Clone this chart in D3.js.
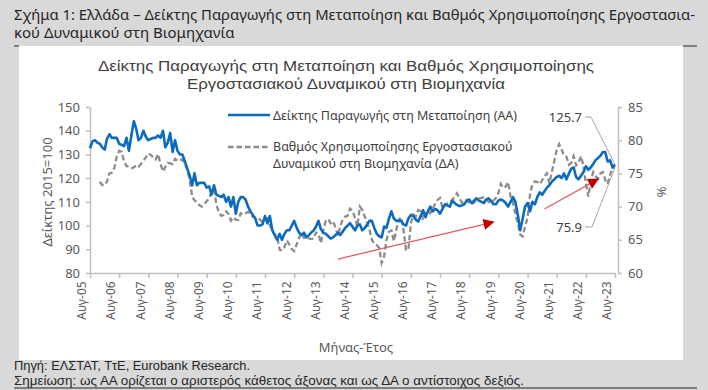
<!DOCTYPE html>
<html>
<head>
<meta charset="utf-8">
<script src="https://cdn.jsdelivr.net/npm/d3@7"></script>
<style>
  body { margin: 0; background: #d9d9d9; }
  svg { display: block; font-family: "Noto Sans", sans-serif; }
</style>
</head>
<body>
<div id="chart"></div>
<script>
// monthly, from Aug 2005 (index 2015=100, left axis)
const ipStart = new Date(2005, 7, 1);
const ipValues = [
  132.6, 135.5, 136, 135, 134.5, 133, 132, 136.5, 138.5, 137, 137, 137,
  134.5, 134, 133.5, 137, 131.5, 138, 144, 141, 136, 137, 140, 137.5,
  136, 136.5, 137, 137, 138, 137, 140, 133, 135, 139, 131, 136,
  131.5, 130, 130, 127, 124, 121, 117, 122, 117, 118, 118, 118,
  116, 116.5, 113, 117, 113, 112.5, 112, 113, 110, 112, 108, 112,
  105, 110, 112, 112, 111, 108, 106, 104.5, 103, 100, 100, 100.5,
  104, 101, 104, 98, 96, 94, 96.5, 94, 96.5, 98, 98, 100,
  102, 99, 97, 96, 97, 95, 96, 97, 98, 99.5, 102, 98.5,
  97, 96.5, 95.5, 94.5, 95, 96, 97, 96, 97.5, 99, 100, 101,
  99.5, 98, 100, 100.5, 98, 99, 100.5, 102, 102, 99, 96.5, 95.5,
  95, 99.6, 99, 103, 106, 103, 102, 102, 102, 100.5, 100, 103,
  104.5, 104, 102.5, 101.7, 104, 106.5, 103.5, 106, 108, 106, 107, 106.5,
  105, 107, 109, 108.5, 108, 110.5, 109.5, 108.7, 108.2, 108.5, 109, 110.5,
  111, 109.5, 110.5, 111.5, 110.5, 110, 109.5, 111, 111.5, 110.5, 109, 109,
  110.5, 111, 110.5, 109.5, 108, 110, 112, 110, 104.5, 98, 103, 108,
  109.5, 106, 110, 109, 112, 114, 113, 114.5, 116, 117, 118.5, 119.5,
  120.5, 121, 120, 122, 119.5, 122, 124, 124.5, 120.5, 119.5, 121, 122.5,
  125, 123.5, 124.5, 126, 127.6, 128.5, 129.5, 131, 131, 127, 127.5, 124.5,
  125.7
];

// monthly, from Dec 2005 (capacity utilisation %, right axis)
const cuStart = new Date(2005, 11, 1);
const cuValues = [
  73.75, 73.25, 73.25, 73.75, 75, 75.1, 75.8, 77.5,
  78.4, 78.25, 76.8, 76.1, 76, 75.8, 75.9, 76.2, 76, 76.4, 76.9, 77.4,
  78, 77.8, 77.4, 77.1, 77.9, 76.4, 75.3, 76, 76.6, 76.5, 76.4, 77.2,
  76.9, 77, 77.1, 76.4, 75.6, 74, 71.4, 71, 70.6, 70.2, 70, 70.4,
  70.8, 71.3, 72.2, 72.6, 70.3, 69.1, 68.6, 68.75, 69.3, 68.9, 67.9, 68.4,
  68, 68, 69, 68.8, 69, 69.2, 69, 68.5, 68.3, 68.4, 68, 67.7,
  67.8, 68.2, 67.2, 66.4, 65.8, 65.5, 63.5, 63.4, 63.9, 64.9, 64.3, 63.6,
  63.3, 64.3, 65.3, 66, 65.3, 65.5, 65.2, 65.1, 65.2, 66.1, 65.9, 64.5,
  66.5, 67.9, 68.1, 67.5, 67.8, 66.8, 65.6, 67, 68.1, 68.5, 68.6, 69.7,
  69.4, 68.3, 67, 70, 69.5, 68.5, 67.6, 66.5, 65, 64.4, 64.2, 63.8,
  61.5, 62.5, 65, 66.2, 66.4, 64.8, 66.5, 68, 68.4, 66.5, 63.5, 63.5,
  67.5, 68.8, 68.5, 69.5, 69.3, 68, 69.3, 69.3, 69, 69.7, 70.4, 71,
  71.3, 69.75, 70.1, 70.5, 70.7, 71, 71.5, 72, 71.3, 70.6, 70.7, 71,
  70.6, 70.3, 70.6, 71, 71.2, 71.3, 71.4, 71.2, 70.7, 70.6, 70.9, 71.3,
  72, 73.4, 72.8, 73, 73.7, 71.5, 70.5, 69, 67.5, 65.8, 65.5, 67,
  68.3, 71.8, 73.4, 73.8, 73.7, 73.4, 74, 74.6, 75, 73.5, 75.2, 76.8,
  78.5, 79.4, 78.6, 77.7, 77.5, 76.3, 76.6, 77.6, 76.2, 76.6, 77.6, 76.2,
  73.5, 71.5, 73.8, 75.2, 74.6, 74.2, 75, 75.2, 74, 73.4, 74.8, 75.8,
  75.9
];

const tickYears = d3.range(2005, 2024);
const leftTicks = [80, 90, 100, 110, 120, 130, 140, 150];
const rightTicks = [60, 65, 70, 75, 80, 85];

const ipSeries = ipValues.map((v, i) => ({ date: d3.timeMonth.offset(ipStart, i), value: v }));
const cuSeries = cuValues.map((v, i) => ({ date: d3.timeMonth.offset(cuStart, i), value: v }));

// trend arrows drawn on the chart, in data units (left axis)
const trendArrows = [
  { from: [new Date(2014, 1, 1), 85.9], to: [new Date(2019, 5, 1), 101.5] },
  { from: [new Date(2021, 2, 1), 107], to: [new Date(2023, 0, 1), 119.6] }
];

function drawChart() {
  const width = 708;
  const height = 390;

  const svg = d3.select("#chart")
    .append("svg")
    .attr("width", width)
    .attr("height", height);

  // page frame
  svg.append("rect")
    .attr("x", 0).attr("y", 0)
    .attr("width", width).attr("height", height)
    .attr("fill", "#d9d9d9");
  svg.append("rect")
    .attr("x", 19).attr("y", 46)
    .attr("width", 664).attr("height", 314)
    .attr("fill", "#ffffff");
  svg.append("line").attr("x1", 14).attr("x2", 19).attr("y1", 46).attr("y2", 46)
    .attr("stroke", "#7f7f7f").attr("stroke-width", 2);
  svg.append("line").attr("x1", 683).attr("x2", 697).attr("y1", 46).attr("y2", 46)
    .attr("stroke", "#7f7f7f").attr("stroke-width", 2);
  svg.append("line").attr("x1", 14).attr("x2", 697).attr("y1", 388).attr("y2", 388)
    .attr("stroke", "#7f7f7f").attr("stroke-width", 2);

  const head = svg.append("g").attr("fill", "#262626").attr("font-size", 15);
  head.append("text").attr("x", 14).attr("y", 20)
    .attr("textLength", 681).attr("lengthAdjust", "spacingAndGlyphs")
    .text("Σχήμα 1: Ελλάδα – Δείκτης Παραγωγής στη Μεταποίηση και Βαθμός Χρησιμοποίησης Εργοστασια-");
  head.append("text").attr("x", 14).attr("y", 38)
    .text("κού Δυναμικού στη Βιομηχανία");

  const foot = svg.append("g").attr("fill", "#262626").attr("font-size", 12.5)
    .attr("font-family", "'Liberation Sans', sans-serif");
  foot.append("text").attr("x", 14).attr("y", 370)
    .attr("textLength", 236).attr("lengthAdjust", "spacingAndGlyphs")
    .text("Πηγή: ΕΛΣΤΑΤ, ΤτΕ, Eurobank Research.");
  foot.append("text").attr("x", 14).attr("y", 385)
    .attr("textLength", 510).attr("lengthAdjust", "spacingAndGlyphs")
    .text("Σημείωση: ως ΑΑ ορίζεται ο αριστερός κάθετος άξονας και ως ΔΑ ο αντίστοιχος δεξιός.");

  // chart title
  const title = svg.append("g").attr("fill", "#404040").attr("font-size", 15)
    .attr("font-family", "'Liberation Sans', sans-serif")
    .attr("text-anchor", "middle");
  title.append("text").attr("x", 346).attr("y", 71)
    .attr("textLength", 496).attr("lengthAdjust", "spacingAndGlyphs")
    .text("Δείκτης Παραγωγής στη Μεταποίηση και Βαθμός Χρησιμοποίησης");
  title.append("text").attr("x", 346).attr("y", 89)
    .attr("textLength", 318).attr("lengthAdjust", "spacingAndGlyphs")
    .text("Εργοστασιακού Δυναμικού στη Βιομηχανία");

  const xScale = d3.scaleTime()
    .domain([new Date(2005, 7, 1), new Date(2023, 7, 1)])
    .range([90, 615]);
  const yLeft = d3.scaleLinear().domain([80, 150]).range([273, 107]);
  const yRight = d3.scaleLinear().domain([60, 85]).range([273, 107]);

  const axisColor = "#bfbfbf";
  const labelColor = "#595959";

  const xAxis = svg.append("g")
    .attr("transform", "translate(0,273)")
    .call(d3.axisBottom(xScale)
      .tickValues(tickYears.map((y) => new Date(y, 7, 1)))
      .tickFormat((d) => "Αυγ-" + String(d.getFullYear() % 100).padStart(2, "0"))
      .tickSize(5).tickSizeOuter(0));
  xAxis.selectAll("text")
    .attr("transform", "rotate(-90)")
    .attr("text-anchor", "end")
    .attr("dx", "-0.7em")
    .attr("dy", "-0.35em")
    .attr("x", 0).attr("y", 0)
    .attr("font-size", 12)
    .attr("fill", labelColor);

  const leftAxis = svg.append("g")
    .attr("transform", "translate(90,0)")
    .call(d3.axisLeft(yLeft).tickValues(leftTicks).tickSize(4).tickSizeOuter(0).tickPadding(6));
  leftAxis.selectAll("text").attr("font-size", 13).attr("fill", labelColor);

  const rightAxis = svg.append("g")
    .attr("transform", "translate(618,0)")
    .call(d3.axisRight(yRight).tickValues(rightTicks).tickSize(4).tickSizeOuter(0).tickPadding(6));
  rightAxis.selectAll("text").attr("font-size", 13).attr("fill", labelColor);

  [xAxis, leftAxis, rightAxis].forEach((a) => {
    a.select(".domain").attr("stroke", axisColor).attr("stroke-width", 1.5);
    a.selectAll(".tick line").attr("stroke", axisColor).attr("stroke-width", 1.5);
    a.attr("font-family", null);
  });

  svg.append("text")
    .attr("transform", "translate(52,192) rotate(-90)")
    .attr("text-anchor", "middle")
    .attr("font-size", 13).attr("fill", labelColor)
    .text("Δείκτης 2015=100");
  svg.append("text")
    .attr("transform", "translate(657,192) rotate(90)")
    .attr("text-anchor", "middle")
    .attr("font-size", 13).attr("fill", labelColor)
    .text("%");
  svg.append("text")
    .attr("x", 356).attr("y", 352)
    .attr("text-anchor", "middle")
    .attr("font-size", 13).attr("fill", labelColor)
    .text("Μήνας-Έτος");

  // series
  const cuLine = d3.line().x((d) => xScale(d.date)).y((d) => yRight(d.value));
  const ipLine = d3.line().x((d) => xScale(d.date)).y((d) => yLeft(d.value));

  svg.append("path")
    .datum(cuSeries)
    .attr("d", cuLine)
    .attr("fill", "none")
    .attr("stroke", "#8c8c8c")
    .attr("stroke-width", 2.3)
    .attr("stroke-dasharray", "5.5,3");

  svg.append("path")
    .datum(ipSeries)
    .attr("d", ipLine)
    .attr("fill", "none")
    .attr("stroke", "#0c6bbf")
    .attr("stroke-width", 2.6)
    .attr("stroke-linejoin", "round");

  // trend arrows
  svg.append("defs").append("marker")
    .attr("id", "arrowHead")
    .attr("viewBox", "0 0 10 10")
    .attr("refX", 9).attr("refY", 5)
    .attr("markerWidth", 12).attr("markerHeight", 11)
    .attr("markerUnits", "userSpaceOnUse")
    .attr("orient", "auto")
    .append("path")
    .attr("d", "M0,0 L10,5 L0,10 Z")
    .attr("fill", "#c00000");

  svg.append("g")
    .selectAll("line")
    .data(trendArrows)
    .join("line")
    .attr("x1", (d) => xScale(d.from[0]))
    .attr("y1", (d) => yLeft(d.from[1]))
    .attr("x2", (d) => xScale(d.to[0]))
    .attr("y2", (d) => yLeft(d.to[1]))
    .attr("stroke", "#e06060")
    .attr("stroke-width", 1.3)
    .attr("marker-end", "url(#arrowHead)");

  // end value callouts
  const lastIp = ipSeries[ipSeries.length - 1];
  const lastCu = cuSeries[cuSeries.length - 1];
  const callouts = svg.append("g").attr("font-size", 13).attr("fill", "#404040");
  callouts.append("text").attr("x", 582).attr("y", 122).attr("text-anchor", "end")
    .text(lastIp.value.toFixed(1));
  callouts.append("polyline")
    .attr("points", [[585, 117], [591, 117], [xScale(lastIp.date), yLeft(lastIp.value)]].join(" "))
    .attr("fill", "none").attr("stroke", "#a6a6a6").attr("stroke-width", 1);
  callouts.append("text").attr("x", 582).attr("y", 232).attr("text-anchor", "end")
    .text(lastCu.value.toFixed(1));
  callouts.append("polyline")
    .attr("points", [[585, 227], [592, 227], [xScale(lastCu.date), yRight(lastCu.value)]].join(" "))
    .attr("fill", "none").attr("stroke", "#a6a6a6").attr("stroke-width", 1);

  // legend
  const legend = svg.append("g").attr("font-size", 12.5).attr("fill", "#404040");
  legend.append("line").attr("x1", 228).attr("x2", 270).attr("y1", 115).attr("y2", 115)
    .attr("stroke", "#0c6bbf").attr("stroke-width", 2.6);
  legend.append("text").attr("x", 273).attr("y", 120)
    .text("Δείκτης Παραγωγής στη Μεταποίηση (ΑΑ)");
  legend.append("line").attr("x1", 228).attr("x2", 270).attr("y1", 147).attr("y2", 147)
    .attr("stroke", "#8c8c8c").attr("stroke-width", 2.3).attr("stroke-dasharray", "5.5,3");
  legend.append("text").attr("x", 273).attr("y", 151)
    .text("Βαθμός Χρησιμοποίησης Εργοστασιακού");
  legend.append("text").attr("x", 273).attr("y", 168)
    .text("Δυναμικού στη Βιομηχανία (ΔΑ)");
}

document.addEventListener("DOMContentLoaded", drawChart);
</script>
</body>
</html>
